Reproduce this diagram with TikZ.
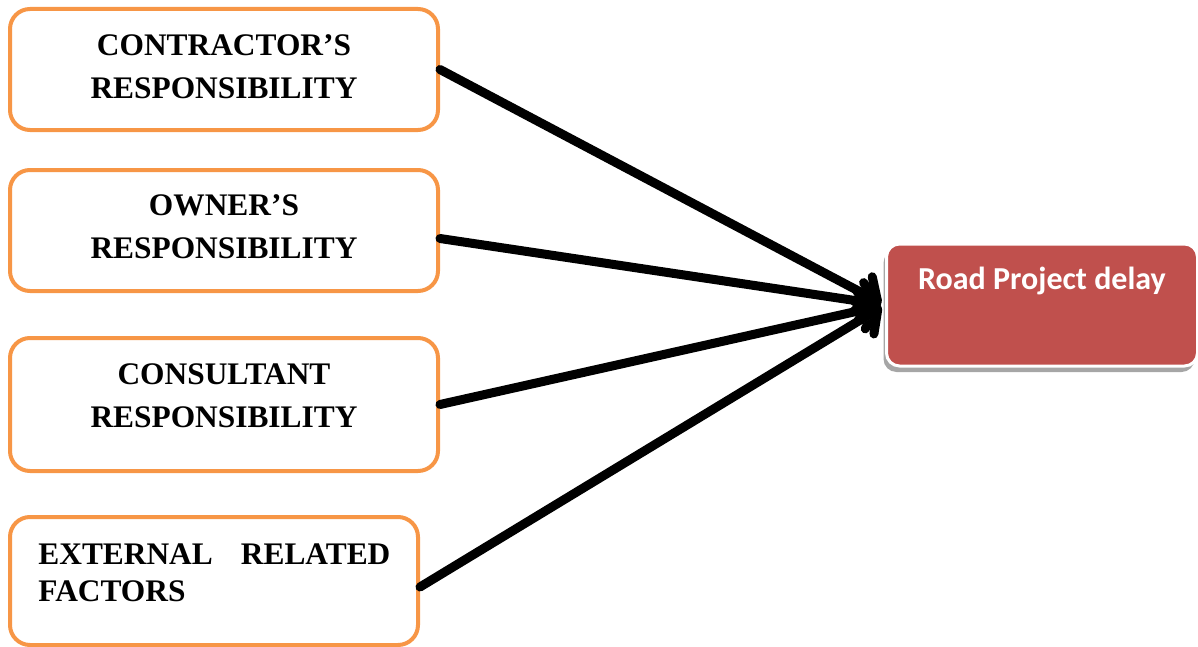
\documentclass[tikz,border=0pt]{standalone}
\usepackage{fontspec}
\setmainfont{Liberation Serif}
\newfontfamily\calfont{Carlito}
\usetikzlibrary{arrows.meta,positioning,shadows}
\definecolor{boxorange}{HTML}{F79646}
\definecolor{delayred}{HTML}{C0504D}
\tikzset{
  cause/.style={draw=boxorange, line width=2pt, rounded corners=10pt, fill=white,
    minimum width=214pt, align=center, font=\fontsize{15.7}{21.5}\selectfont\bfseries},
  effect/.style={draw=white, line width=1.5pt, fill=delayred, rounded corners=6.5pt,
    minimum width=155.5pt, minimum height=61pt,
    drop shadow={shadow xshift=-1.5pt, shadow yshift=-3pt, fill=gray!70, opacity=1}},
  effecttext/.style={inner sep=0pt, text=white, font=\calfont\fontsize{16}{19}\selectfont\bfseries},
  push/.style={line width=4.5pt, line cap=round, shorten >=2pt,
    -{Straight Barb[length=8pt,width=19pt,round]},
    preaction={draw=gray!75, transform canvas={xshift=1pt,yshift=-1.5pt}}}
}
\begin{document}
\begin{tikzpicture}[x=0.5pt,y=-0.5pt]
  \useasboundingbox (0,0) rectangle (1198,647);
  % the four causes
  \node[cause, minimum height=60.5pt, text depth=3pt] (contractor) at (224,69.5) {CONTRACTOR'S\\RESPONSIBILITY};
  \node[cause, minimum height=60.5pt, text depth=4pt] (owner) at (224,230.5) {OWNER'S\\RESPONSIBILITY};
  \node[cause, minimum height=66.5pt, text depth=9pt] (consultant) at (224,404.5) {CONSULTANT\\RESPONSIBILITY};
  \node[cause, minimum width=204pt, minimum height=64pt] (external) at (214,581) {};
  \node[anchor=north west, inner sep=0pt, text width=176pt, align=justify,
    font=\fontsize{15.7}{18.5}\selectfont\bfseries] (externaltext) at (38,543)
    {\hyphenpenalty=10000 EXTERNAL RELATED FACTORS};
  % the effect
  \node[effect] (road) at (1042,305) {};
  \node[effecttext, below=12pt of road.north] (roadtext) {Road Project delay};
  % arrows
  \draw[push] (contractor.east) -- (road.west);
  \draw[push] ([yshift=-4pt]owner.east) -- (road.west);
  \draw[push] (consultant.east) -- (road.west);
  \draw[push] ([yshift=-3pt]external.east) -- (road.west);
\end{tikzpicture}
\end{document}
